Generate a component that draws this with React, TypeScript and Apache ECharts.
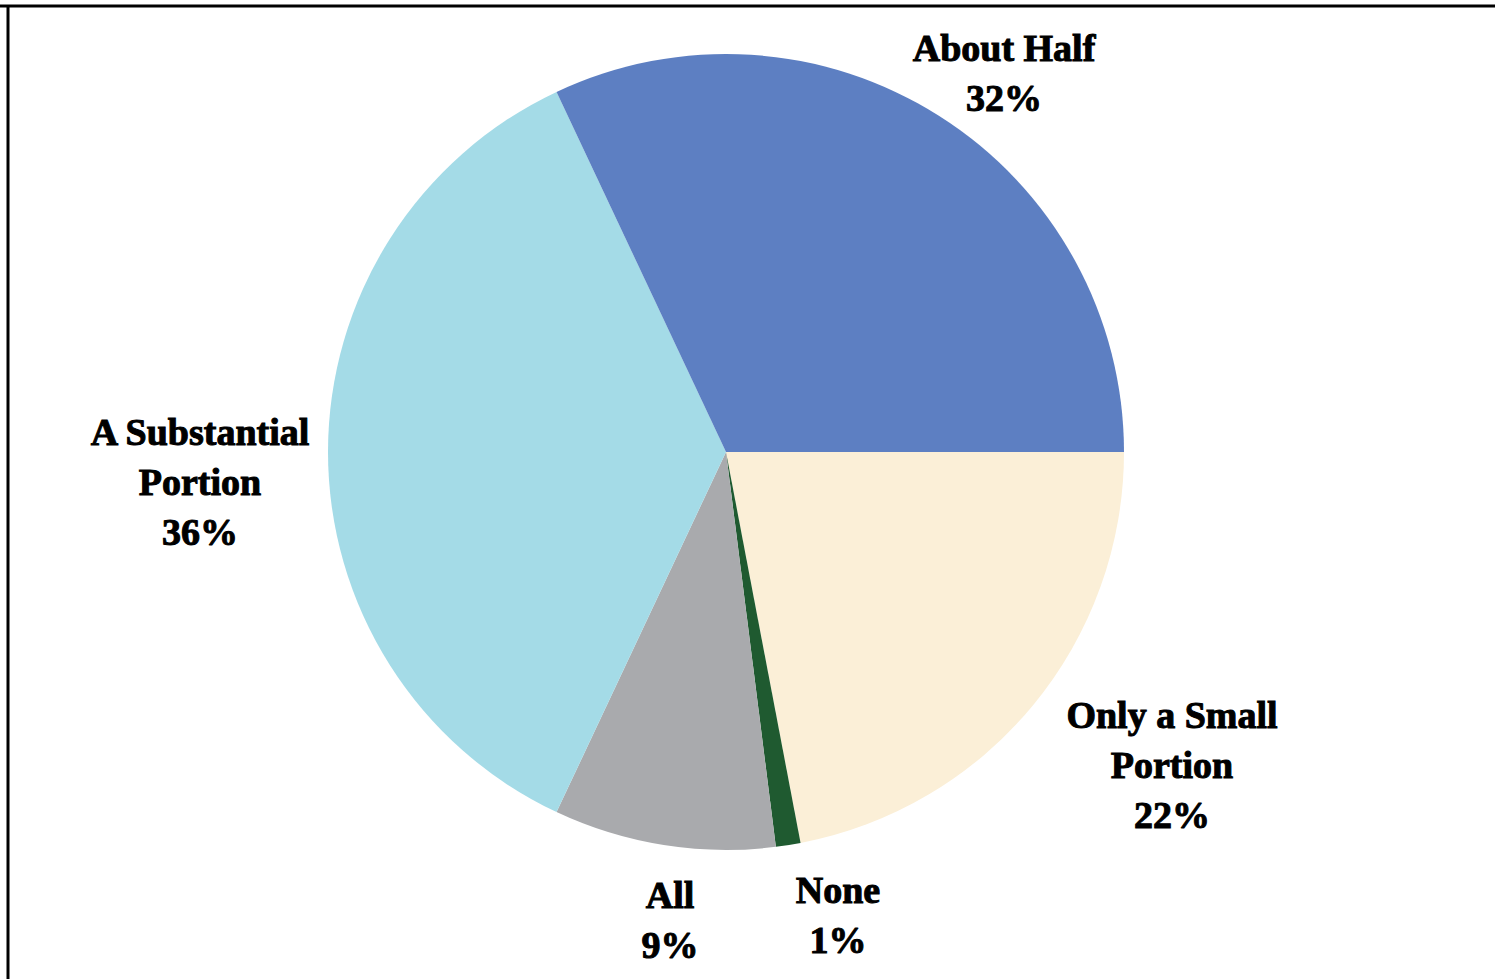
import React, { useEffect, useRef } from "react";
import * as echarts from "echarts";

// Data (clockwise from 3 o'clock)
const categories = ["Only a Small Portion", "None", "All", "A Substantial Portion", "About Half"];
const labelLines = [
  ["Only a Small", "Portion"],
  ["None"],
  ["All"],
  ["A Substantial", "Portion"],
  ["About Half"],
];
const values = [22, 1, 9, 36, 32];
const colors = ["#fbefd7", "#1f5a30", "#a9aaad", "#a4dbe7", "#5d7fc2"];

// Label layout (centre of each label block, in px)
const labelX = [1172, 838, 670, 200, 1004];
const labelY = [765, 915, 920, 482, 73];

export default function App() {
  const ref = useRef<HTMLDivElement>(null);
  useEffect(() => {
    if (!ref.current) return;
    const chart = echarts.init(ref.current, null, { renderer: "svg" });
    chart.setOption({
      animation: false,
      backgroundColor: "#ffffff",
      graphic: [
        { type: "line", shape: { x1: 0, y1: 6, x2: 1495, y2: 6 }, style: { stroke: "#000", lineWidth: 3 } },
        { type: "line", shape: { x1: 8, y1: 5, x2: 8, y2: 979 }, style: { stroke: "#000", lineWidth: 3 } },
      ],
      series: [
        {
          type: "pie",
          center: [726, 452],
          radius: 398,
          startAngle: 0,
          clockwise: true,
          avoidLabelOverlap: false,
          itemStyle: { borderWidth: 0 },
          emphasis: { disabled: true },
          labelLine: { show: false },
          label: {
            show: true,
            position: "outside",
            formatter: (p: any) => labelLines[p.dataIndex].join("\n") + "\n" + p.value + "%",
            fontFamily: "'Liberation Serif', 'Times New Roman', serif",
            fontWeight: "bold",
            fontSize: 38,
            lineHeight: 50,
            color: "#000",
            textBorderColor: "#000",
            textBorderWidth: 1,
            align: "center",
          },
          labelLayout: (params: any) => ({
            x: labelX[params.dataIndex],
            y: labelY[params.dataIndex],
            align: "center",
            verticalAlign: "middle",
          }),
          data: categories.map((c, i) => ({
            name: c,
            value: values[i],
            itemStyle: { color: colors[i] },
          })),
        },
      ],
    });
    return () => chart.dispose();
  }, []);
  return (
    <div
      ref={ref}
      style={{ position: "fixed", left: 0, top: 0, width: 1495, height: 979 }}
    />
  );
}
